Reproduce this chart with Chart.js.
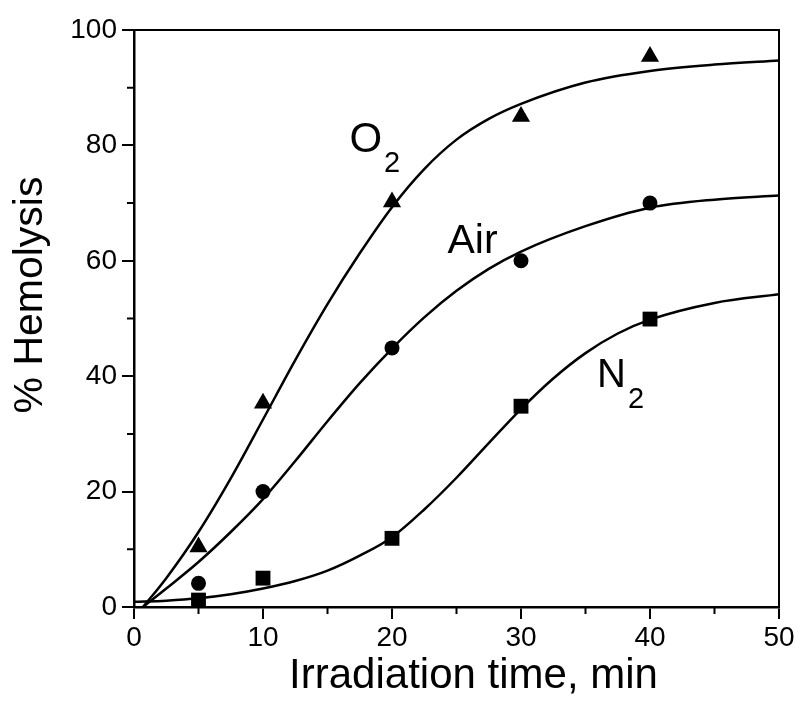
<!DOCTYPE html>
<html>
<head>
<meta charset="utf-8">
<script src="https://cdn.jsdelivr.net/npm/chart.js@4.4.1/dist/chart.umd.min.js"></script>
<style>
	html, body { margin: 0; padding: 0; background: #fff; }
	#wrap { width: 797px; height: 711px; }
</style>
</head>
<body>
<div id="wrap"><canvas id="chart" width="797" height="711"></canvas></div>
<script>
// measured points
var timePoints = [5, 10, 20, 30, 40];
var o2Points = [10.4, 35.3, 70.2, 85, 95.4];
var airPoints = [4.1, 20, 44.9, 60, 70];
var n2Points = [1.2, 5, 11.9, 34.8, 49.9];

// fitted curves
var fitTime = [0.7, 2.5, 5, 7.5, 10, 12.5, 15, 17.5, 20, 22.5, 25, 27.5, 30, 35, 40, 45, 50];
var o2Fit = [0, 5, 13, 22.3, 32.5, 42.8, 52.5, 61.3, 69.3, 75.9, 81, 84.6, 87.2, 90.9, 92.9, 94, 94.7];
var airFit = [0, 3.2, 7.8, 13, 18.7, 25.3, 32.2, 38.8, 44.8, 50.2, 54.8, 58.6, 61.6, 66, 69.2, 70.6, 71.3];
var n2Time = [0, 2.5, 5, 7.5, 10, 12.5, 15, 17.5, 20, 22.5, 25, 27.5, 30, 32.5, 35, 37.5, 40, 45, 50];
var n2Fit = [0.9, 1.1, 1.5, 2.2, 3.2, 4.5, 6.3, 8.9, 12.1, 16.9, 22.4, 28.4, 34.3, 39.6, 44, 47.4, 49.8, 52.7, 54.2];

var xTicks = [0, 10, 20, 30, 40, 50];
var yTicks = [0, 20, 40, 60, 80, 100];
var xMinor = [5, 15, 25, 35, 45];
var yMinor = [10, 30, 50, 70, 90];

var FONT = '"Liberation Sans", Arial, sans-serif';

function toXY(xs, ys){
	var out = [];
	for (var i = 0; i < xs.length; i++) {
		out.push({x: xs[i], y: ys[i]});
	}
	return out;
}

function curve(xs, ys){
	return {
		data: toXY(xs, ys),
		showLine: true,
		borderColor: '#000',
		borderWidth: 2.5,
		pointRadius: 0,
		cubicInterpolationMode: 'monotone',
		fill: false
	};
}

function marks(ys, style, r){
	return {
		data: toXY(timePoints, ys),
		showLine: false,
		pointStyle: style,
		pointRadius: r,
		pointHoverRadius: r,
		backgroundColor: '#000',
		borderColor: '#000',
		borderWidth: 0
	};
}

// frame, minor ticks and all free text
var decor = {
	id: 'decor',
	afterDraw: function(chart){
		var ctx = chart.ctx;
		var a = chart.chartArea;
		var sx = chart.scales.x;
		var sy = chart.scales.y;
		ctx.save();
		ctx.strokeStyle = '#000';
		ctx.lineWidth = 2;
		ctx.beginPath();
		ctx.moveTo(a.left, a.top);
		ctx.lineTo(a.right, a.top);
		ctx.lineTo(a.right, a.bottom);
		ctx.stroke();

		ctx.beginPath();
		xMinor.forEach(function(v){
			var px = sx.getPixelForValue(v);
			ctx.moveTo(px, a.bottom);
			ctx.lineTo(px, a.bottom + 7);
		});
		yMinor.forEach(function(v){
			var py = sy.getPixelForValue(v);
			ctx.moveTo(a.left, py);
			ctx.lineTo(a.left - 7, py);
		});
		ctx.stroke();

		ctx.fillStyle = '#000';
		ctx.textBaseline = 'alphabetic';

		// axis titles
		ctx.font = '42px ' + FONT;
		ctx.textAlign = 'center';
		ctx.fillText('Irradiation time, min', (a.left + a.right) / 2 + 17, 688);
		ctx.font = '41px ' + FONT;
		ctx.save();
		ctx.translate(42, 295);
		ctx.rotate(-Math.PI / 2);
		ctx.fillText('% Hemolysis', 0, 0);
		ctx.restore();

		// curve labels
		ctx.textAlign = 'left';
		var ox = sx.getPixelForValue(16.7), oy = sy.getPixelForValue(78.8);
		ctx.font = '42px ' + FONT;
		ctx.fillText('O', ox, oy);
		var ow = ctx.measureText('O').width;
		ctx.font = '29px ' + FONT;
		ctx.fillText('2', ox + ow + 2, oy + 20);

		ctx.font = '41px ' + FONT;
		ctx.fillText('Air', sx.getPixelForValue(24.3), sy.getPixelForValue(61.3));

		var nx = sx.getPixelForValue(35.9), ny = sy.getPixelForValue(38.1);
		ctx.font = '40px ' + FONT;
		ctx.fillText('N', nx, ny);
		var nw = ctx.measureText('N').width;
		ctx.font = '29px ' + FONT;
		ctx.fillText('2', nx + nw + 2, ny + 21);
		ctx.restore();
	}
};

var ctx = document.getElementById('chart').getContext('2d');
window.myChart = new Chart(ctx, {
	type: 'scatter',
	data: {
		datasets: [
			curve(fitTime, o2Fit),
			curve(fitTime, airFit),
			curve(n2Time, n2Fit),
			marks(o2Points, 'triangle', 10.5),
			marks(airPoints, 'circle', 7.5),
			marks(n2Points, 'rect', 10.5)
		]
	},
	options: {
		responsive: false,
		devicePixelRatio: 1,
		animation: false,
		events: [],
		layout: { padding: { left: 0, right: 18, top: 30, bottom: 0 } },
		plugins: {
			legend: { display: false },
			tooltip: { enabled: false },
			title: { display: false }
		},
		scales: {
			x: {
				type: 'linear',
				min: 0,
				max: 50,
				afterFit: function(scale){ scale.height = 104; },
				afterBuildTicks: function(scale){
					scale.ticks = xTicks.map(function(v){ return {value: v}; });
				},
				border: { display: true, color: '#000', width: 2.5 },
				grid: { drawOnChartArea: false, color: '#000', lineWidth: 2, tickLength: 12 },
				ticks: {
					color: '#000',
					font: { family: FONT, size: 28 },
					padding: 2,
					maxRotation: 0
				}
			},
			y: {
				type: 'linear',
				min: 0,
				max: 100,
				afterFit: function(scale){ scale.width = 134; },
				afterBuildTicks: function(scale){
					scale.ticks = yTicks.map(function(v){ return {value: v}; });
				},
				border: { display: true, color: '#000', width: 2.5 },
				grid: { drawOnChartArea: false, color: '#000', lineWidth: 2, tickLength: 12 },
				ticks: {
					color: '#000',
					font: { family: FONT, size: 28 },
					padding: 5
				}
			}
		}
	},
	plugins: [decor]
});
</script>
</body>
</html>
